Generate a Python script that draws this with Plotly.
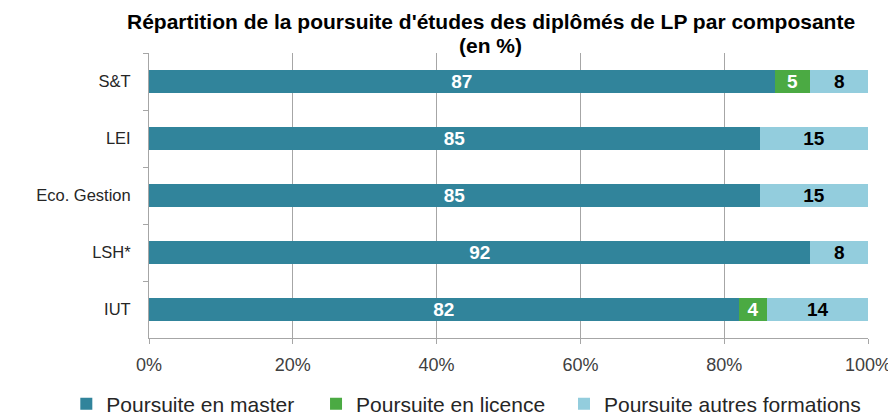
import plotly.graph_objects as go

categories = ["S&T", "LEI", "Eco. Gestion", "LSH*", "IUT"]
master = [87, 85, 85, 92, 82]
licence = [5, None, None, None, 4]
autres = [8, 15, 15, 8, 14]
series_names = ["Poursuite en master", "Poursuite en licence", "Poursuite autres formations"]
colors = ["#31849B", "#4BAA43", "#93CDDD"]
text_colors = ["white", "white", "black"]
x_ticks = [0, 20, 40, 60, 80, 100]
x_tick_labels = ["0%", "20%", "40%", "60%", "80%", "100%"]
title_line1 = "<b>Répartition de la poursuite d'études des diplômés de LP par composante</b>"
title_line2 = "<b>(en %)</b>"

FONT = "Liberation Sans, Arial"
legend_ids = ["legend", "legend2", "legend3"]
legend_x = [-0.115, 0.2323, 0.5772]

fig = go.Figure()
for name, vals, col, tcol, lid in zip(series_names, [master, licence, autres], colors, text_colors, legend_ids):
    fig.add_trace(go.Bar(
        y=categories, x=vals, name=name, orientation="h",
        marker=dict(color=col, line=dict(width=0)),
        text=[("" if v is None else str(v)) for v in vals],
        textposition="inside", insidetextanchor="middle", textangle=0,
        textfont=dict(family=FONT, size=19, color=tcol, weight="bold"),
        constraintext="none",
        hoverinfo="skip",
        legend=lid,
    ))

legend_common = dict(
    orientation="h", xanchor="left", xref="paper",
    y=-0.232, yanchor="middle",
    font=dict(size=21, color="#262626"),
    itemclick=False, bgcolor="rgba(0,0,0,0)",
)

fig.update_layout(
    barmode="stack",
    bargap=0.61,
    width=888, height=407,
    margin=dict(l=141, r=28, t=45, b=77, autoexpand=False),
    paper_bgcolor="white", plot_bgcolor="white",
    font=dict(family=FONT, size=16, color="#262626"),
    legend=dict(x=legend_x[0], **legend_common),
    legend2=dict(x=legend_x[1], **legend_common),
    legend3=dict(x=legend_x[2], **legend_common),
    showlegend=True,
    annotations=[
        dict(text=title_line1, xref="paper", yref="paper", x=0.4757, y=1.1088,
             xanchor="center", yanchor="middle", showarrow=False,
             font=dict(family=FONT, size=21, color="black")),
        dict(text=title_line2, xref="paper", yref="paper", x=0.4743, y=1.028,
             xanchor="center", yanchor="middle", showarrow=False,
             font=dict(family=FONT, size=21, color="black")),
    ],
)
fig.update_xaxes(
    range=[0, 100], tickvals=x_ticks, ticktext=x_tick_labels,
    showgrid=True, gridcolor="#A6A6A6", gridwidth=1,
    showline=True, linecolor="#A6A6A6", linewidth=1,
    ticks="outside", ticklen=5, tickcolor="#A6A6A6",
    zeroline=False, tickfont=dict(size=18, color="#404040"),
    ticklabelstandoff=5, automargin=False,
)
fig.update_yaxes(
    autorange="reversed", type="category",
    showline=True, linecolor="#A6A6A6", linewidth=1,
    ticks="outside", ticklen=5, tickcolor="#A6A6A6", tickson="boundaries",
    showgrid=False, tickfont=dict(size=16.5, color="#262626"),
    ticklabelstandoff=14, automargin=False,
)

fig.write_html("out.html")
